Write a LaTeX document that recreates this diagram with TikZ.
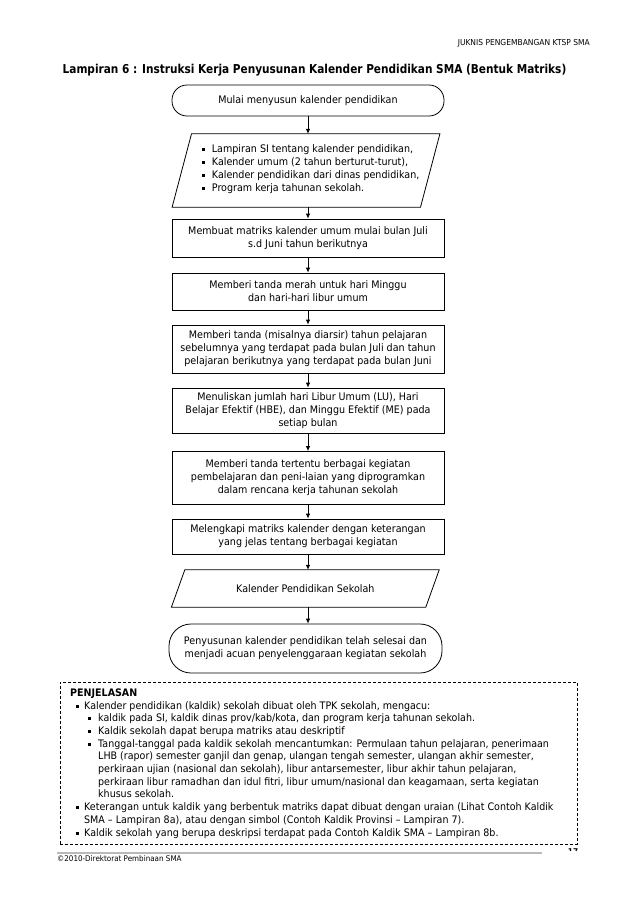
\documentclass[tikz,border=0pt]{standalone}
\usepackage{fontspec}
\setmainfont[FakeStretch=0.92]{DejaVu Sans}
\newfontfamily\titlefont[FakeStretch=0.86]{DejaVu Sans}
\usetikzlibrary{arrows.meta}
\newcommand{\sqb}{\rule[0.28ex]{2.8pt}{2.8pt}}
\newcommand{\bA}{\hspace*{6pt}\makebox[8pt][l]{\sqb}}
\newcommand{\bB}{\hspace*{18pt}\makebox[10pt][l]{\sqb}}
\newcommand{\cA}{\hspace*{14pt}}
\newcommand{\cB}{\hspace*{28pt}}
\begin{document}
\begin{tikzpicture}[x=1pt,y=-1pt,
  >={Latex[length=5pt,width=4.5pt]},
  base/.style={font=\fontsize{10.4}{13}\selectfont, align=center, inner sep=0pt},
  procbox/.style={base, draw, line width=0.8pt, minimum width=272pt},
  term/.style={base, draw, line width=0.8pt, minimum width=272pt},
  shapebox/.style={inner sep=0pt, minimum width=#1},
  paraline/.style={line width=0.8pt},
  flow/.style={->, line width=0.8pt}]
\useasboundingbox[fill=white] (0,0) rectangle (638,903);

% header and title
\node[anchor=east, inner sep=0pt, font=\fontsize{8.2}{9}\selectfont] (hdr) at (590,43) {JUKNIS PENGEMBANGAN KTSP SMA};
\node[inner sep=0pt, font=\titlefont\bfseries\fontsize{12.25}{14}\selectfont] (title) at (314.5,70) {Lampiran 6 : Instruksi Kerja Penyusunan Kalender Pendidikan SMA (Bentuk Matriks)};

% flowchart
\node[term, rounded corners=15pt, minimum height=31pt] (start) at (308,100.5) {Mulai menyusun kalender pendidikan};

\node[shapebox=248pt, minimum height=73pt] (in1) at (306,170.5) {};
\draw[paraline] ([xshift=9.7pt]in1.north west) -- ([xshift=9.7pt]in1.north east) -- ([xshift=-9.7pt]in1.south east) -- ([xshift=-9.7pt]in1.south west) -- cycle;
\node[base, align=left, anchor=west] (in1txt) at (202,169) {%
\makebox[9.7pt][l]{\sqb}Lampiran SI tentang kalender pendidikan,\\
\makebox[9.7pt][l]{\sqb}Kalender umum (2 tahun berturut-turut),\\
\makebox[9.7pt][l]{\sqb}Kalender pendidikan dari dinas pendidikan,\\
\makebox[9.7pt][l]{\sqb}Program kerja tahunan sekolah.};

\node[procbox, minimum height=38pt] (b1) at (308,238) {Membuat matriks kalender umum mulai bulan Juli\\ s.d Juni tahun berikutnya};
\node[procbox, minimum height=37pt] (b2) at (308,291.5) {Memberi tanda merah untuk hari Minggu\\ dan hari-hari libur umum};
\node[procbox, minimum height=48pt] (b3) at (308,349) {Memberi tanda (misalnya diarsir) tahun pelajaran\\ sebelumnya yang terdapat pada bulan Juli dan tahun\\ pelajaran berikutnya yang terdapat pada bulan Juni};
\node[procbox, minimum height=45pt] (b4) at (308,410.5) {Menuliskan jumlah hari Libur Umum (LU), Hari\\ Belajar Efektif (HBE), dan Minggu Efektif (ME) pada\\ setiap bulan};
\node[procbox, minimum height=52.5pt] (b5) at (308,477.7) {Memberi tanda tertentu berbagai kegiatan\\ pembelajaran dan peni-laian yang diprogramkan\\ dalam rencana kerja tahunan sekolah};
\node[procbox, minimum height=35pt] (b6) at (308,536.5) {Melengkapi matriks kalender dengan keterangan\\ yang jelas tentang berbagai kegiatan};

\node[base, shapebox=254pt, minimum height=37pt] (out2) at (305.3,588.5) {Kalender Pendidikan Sekolah};
\draw[paraline] ([xshift=6.7pt]out2.north west) -- ([xshift=6.7pt]out2.north east) -- ([xshift=-6.7pt]out2.south east) -- ([xshift=-6.7pt]out2.south west) -- cycle;

\node[term, rounded corners=22pt, minimum width=273pt, minimum height=49pt] (fin) at (305.5,648.5) {Penyusunan kalender pendidikan telah selesai dan\\ menjadi acuan penyelenggaraan kegiatan sekolah};

\draw[flow] (start.south) -- (start.south |- in1.north);
\draw[flow] (start.south |- in1.south) -- (b1.north);
\draw[flow] (b1.south) -- (b2.north);
\draw[flow] (b2.south) -- (b3.north);
\draw[flow] (b3.south) -- (b4.north);
\draw[flow] (b4.south) -- (b5.north);
\draw[flow] (b5.south) -- (b6.north);
\draw[flow] (b6.south) -- (b6.south |- out2.north);
\draw[flow] (b6.south |- out2.south) -- (b6.south |- fin.north);

% explanation box
\node[draw, line width=0.8pt, dash pattern=on 3pt off 2pt, minimum width=517pt, minimum height=162pt, inner sep=0pt] (expl) at (318.5,763) {};
\node[base, align=left, anchor=north west, font=\fontsize{10.35}{12.7}\selectfont] (expltxt) at (70,688.5) {%
\textbf{PENJELASAN}\\
\bA Kalender pendidikan (kaldik) sekolah dibuat oleh TPK sekolah, mengacu:\\
\bB kaldik pada SI, kaldik dinas prov/kab/kota, dan program kerja tahunan sekolah.\\
\bB Kaldik sekolah dapat berupa matriks atau deskriptif\\
\bB Tanggal-tanggal pada kaldik sekolah mencantumkan: Permulaan tahun pelajaran, penerimaan\\
\cB LHB (rapor) semester ganjil dan genap, ulangan tengah semester, ulangan akhir semester,\\
\cB perkiraan ujian (nasional dan sekolah), libur antarsemester, libur akhir tahun pelajaran,\\
\cB perkiraan libur ramadhan dan idul fitri, libur umum/nasional dan keagamaan, serta kegiatan\\
\cB khusus sekolah.\\
\bA Keterangan untuk kaldik yang berbentuk matriks dapat dibuat dengan uraian (Lihat Contoh Kaldik\\
\cA SMA -- Lampiran 8a), atau dengan simbol (Contoh Kaldik Provinsi -- Lampiran 7).\\
\bA Kaldik sekolah yang berupa deskripsi terdapat pada Contoh Kaldik SMA -- Lampiran 8b.};

% footer
\begin{scope}
\clip (560,845) rectangle (590,850.5);
\node[inner sep=0pt, font=\fontsize{8}{9}\selectfont\bfseries] (pgno) at (573,852) {17};
\end{scope}
\draw[gray!55, line width=2pt] (57,852.5) -- (542,852.5);
\node[anchor=west, inner sep=0pt, font=\fontsize{7.8}{9}\selectfont] (copy) at (57,859) {©2010-Direktorat Pembinaan SMA};
\end{tikzpicture}
\end{document}
